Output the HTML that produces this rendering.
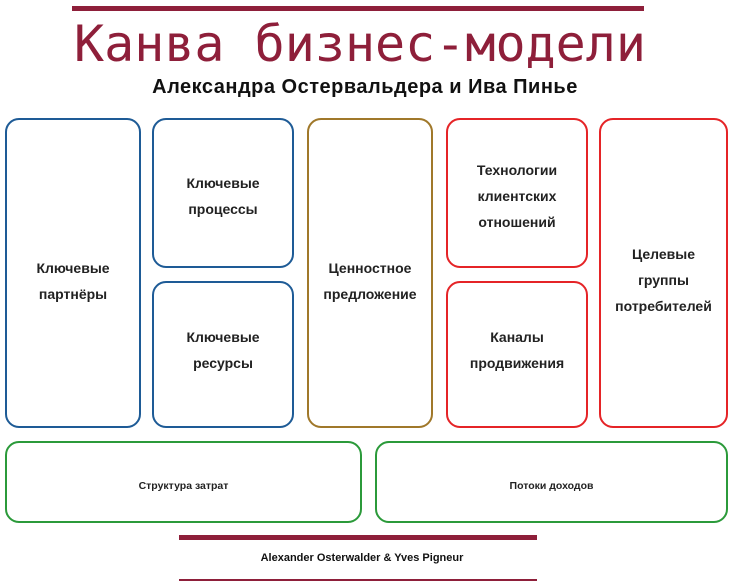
<!DOCTYPE html>
<html><head><meta charset="utf-8"><style>
body{margin:0;width:730px;height:581px;background:#fff;position:relative;overflow:hidden;font-family:"Liberation Sans","DejaVu Sans",sans-serif}
.bar{position:absolute;background:#8e1f3a}
.t{position:absolute;left:0;width:730px;text-align:center}
.b{position:absolute;box-sizing:border-box;border:2.5px solid;border-radius:14px;display:flex;align-items:center;justify-content:center;text-align:center;font-weight:bold;font-size:14px;line-height:26px;color:#222}
.bl{border-color:#1e5b96}.go{border-color:#a0782a}.rd{border-color:#e52427}.gr{border-color:#2b9a3a;font-size:10.5px}
</style></head><body>
<div class="bar" style="left:72px;top:6px;width:572px;height:5px"></div>
<div class="t" style="top:14px;font-family:'DejaVu Sans Mono',monospace;font-size:50px;color:#8e1f3a;line-height:60px;left:-5px">Канва бизнес-модели</div>
<div class="t" style="top:76px;font-weight:bold;font-size:20px;letter-spacing:0.5px;color:#111">Александра Остервальдера и Ива Пинье</div>
<div class="b bl" style="left:5px;top:118px;width:136px;height:310px;padding-top:16px">Ключевые<br>партнёры</div>
<div class="b bl" style="left:152px;top:118px;width:142px;height:150px;padding-top:6px">Ключевые<br>процессы</div>
<div class="b bl" style="left:152px;top:281px;width:142px;height:147px;padding-bottom:10px">Ключевые<br>ресурсы</div>
<div class="b go" style="left:307px;top:118px;width:126px;height:310px;padding-top:16px">Ценностное<br>предложение</div>
<div class="b rd" style="left:446px;top:118px;width:142px;height:150px;padding-top:6px">Технологии<br>клиентских<br>отношений</div>
<div class="b rd" style="left:446px;top:281px;width:142px;height:147px;padding-bottom:10px">Каналы<br>продвижения</div>
<div class="b rd" style="left:599px;top:118px;width:129px;height:310px;padding-top:14px">Целевые<br>группы<br>потребителей</div>
<div class="b gr" style="left:5px;top:441px;width:357px;height:82px;padding-top:8px">Структура затрат</div>
<div class="b gr" style="left:375px;top:441px;width:353px;height:82px;padding-top:8px">Потоки доходов</div>
<div class="bar" style="left:179px;top:535px;width:358px;height:5px"></div>
<div class="t" style="top:552px;font-weight:bold;font-size:11px;color:#111;left:-3px">Alexander Osterwalder &amp; Yves Pigneur</div>
<div class="bar" style="left:179px;top:579px;width:358px;height:2px"></div>
</body></html>
